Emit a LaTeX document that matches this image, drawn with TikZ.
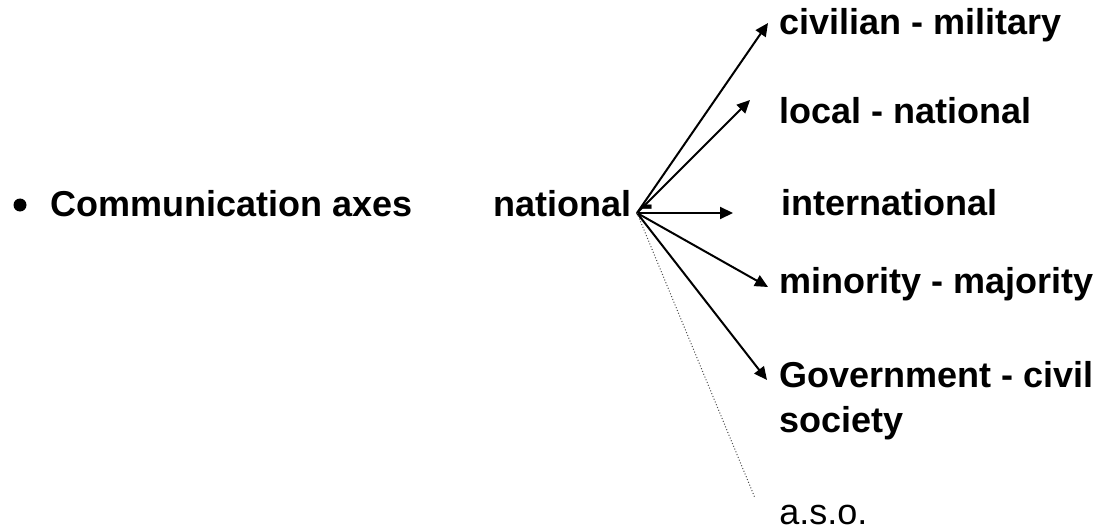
\documentclass[tikz,border=0pt]{standalone}
\usepackage{fontspec}
\setmainfont{Liberation Sans}
\usetikzlibrary{arrows.meta}

\begin{document}
\begin{tikzpicture}[x=0.5pt, y=-0.5pt,
  every node/.style={font=\fontsize{18}{22.5}\selectfont\bfseries, inner sep=0pt, anchor=base west},
  axis/.style={line width=1pt, -{Triangle[length=6.5pt,width=6pt]}}]
\useasboundingbox (0,0) rectangle (1106,529);
\node[circle, fill, minimum size=6.5pt, anchor=center] (dot) at (20,205) {};
\node (comm) at (50,216) {Communication axes};
\node (nat) at (493,216) {national -};
\coordinate (hub) at (637,213);
\node (civ) at (779,35) {civilian - military};
\node (loc) at (779,124) {local - national};
\node (int) at (781,215) {international};
\node (min) at (779,293) {minority - majority};
\node[align=left, anchor=north west] (gov) at (779,361) {Government - civil\\society};
\node[font=\fontsize{18}{22.5}\selectfont] (aso) at (779,524) {a.s.o.};
\coordinate (civtip) at (768,23);
\coordinate (loctip) at (750,100);
\coordinate (inttip) at (733,213);
\coordinate (mintip) at (768,287);
\coordinate (govtip) at (767,380);
\coordinate (asotip) at (755,498);
\foreach \t in {civ,loc,int,min,gov} {
  \draw[axis] (hub) -- (\t tip);
}
\draw[densely dotted, line width=0.5pt, black!70] (hub) -- (asotip);
\end{tikzpicture}
\end{document}
